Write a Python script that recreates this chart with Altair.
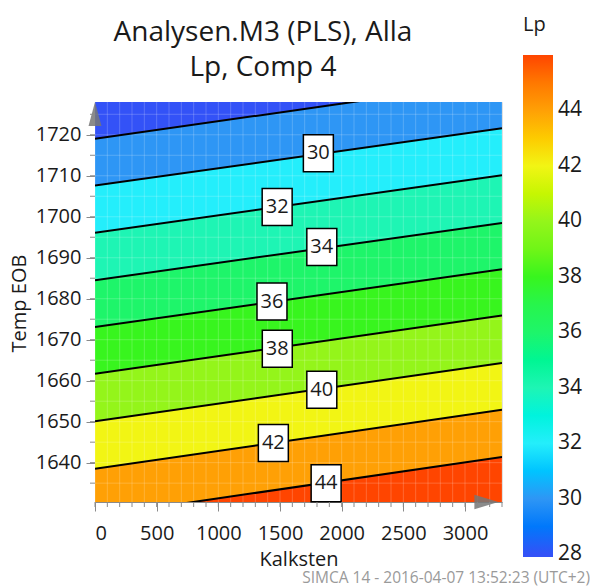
import altair as alt
import pandas as pd

FONT = "Open Sans"
TXT = "#1a1a1a"

# ---- data ----
kalk_domain = [0, 3300]
temp_domain = [1630.4, 1728.0]

levels = [28, 30, 32, 34, 36, 38, 40, 42, 44]
temp_at_kalk_min = [1719.0, 1707.6, 1696.1, 1684.5, 1673.1, 1661.7, 1650.1, 1638.5, 1626.9]
temp_at_kalk_max = [1733.2, 1721.6, 1710.1, 1698.5, 1687.2, 1675.9, 1664.3, 1652.9, 1641.4]

label_values = [30, 32, 34, 36, 38, 40, 42, 44]
label_kalk = [1811, 1477, 1839, 1435, 1478, 1839, 1446, 1874]
label_temp = [1715.5, 1702.4, 1692.6, 1679.3, 1667.8, 1657.8, 1644.8, 1635.0]

colorbar_stops = [27.9, 28, 30, 32, 34, 36, 38, 40, 42, 44, 46]
colorbar_colors = ["#3352F7", "#3352F7", "#2E96F5", "#24EEFB", "#1EF5B4", "#1EF56A",
                   "#38F51E", "#94F51A", "#F2F514", "#FFA005", "#FF4500"]
band_keys = [28, 30, 32, 34, 36, 38, 40, 42, 44, 46]
colorbar_labels = [28, 30, 32, 34, 36, 38, 40, 42, 44]

x_major = list(range(0, 3001, 500))
x_minor = list(range(0, 3301, 100))
y_major = list(range(1640, 1721, 10))
y_minor = list(range(1635, 1726, 5))

title_lines = ["Analysen.M3 (PLS), Alla", "Lp, Comp 4"]
footer_text = ["SIMCA 14 - 2016-04-07 13:52:23 (UTC+2)"]

# ---- tables ----
line_rows = []
for lv, t0, t1 in zip(levels, temp_at_kalk_min, temp_at_kalk_max):
    line_rows.append({"level": lv, "kalk": kalk_domain[0], "temp": t0})
    line_rows.append({"level": lv, "kalk": kalk_domain[1], "temp": t1})
lines_df = pd.DataFrame(line_rows)

edges = {lv: (t0, t1) for lv, t0, t1 in zip(levels, temp_at_kalk_min, temp_at_kalk_max)}
far_top = (temp_domain[1] + 40, temp_domain[1] + 40)
far_bottom = (temp_domain[0] - 40, temp_domain[0] - 40)
band_rows = []
for k in band_keys:
    upper_edge = edges.get(k - 2, far_top)
    lower_edge = edges.get(k, far_bottom)
    for i in range(2):
        band_rows.append({"band": k, "kalk": kalk_domain[i],
                          "hi": upper_edge[i], "lo": lower_edge[i]})
bands_df = pd.DataFrame(band_rows)

labels_df = pd.DataFrame({"value": label_values, "kalk": label_kalk, "temp": label_temp})
xminor_df = pd.DataFrame({"kalk": x_minor})
yminor_df = pd.DataFrame({"temp": y_minor})

xscale = alt.Scale(domain=kalk_domain, nice=False, zero=False)
yscale = alt.Scale(domain=temp_domain, nice=False, zero=False)
cscale = alt.Scale(domain=colorbar_stops, range=colorbar_colors)

xaxis = alt.Axis(
    values=x_major, format="d", tickSize=9,
    tickColor="#8a8a8a", domainColor="#8a8a8a", grid=False,
    labelOverlap=False, labelPadding=12, labelFontSize=20, labelFont=FONT, labelColor=TXT,
    title="Kalksten", titleFontSize=20, titleFont=FONT, titleFontWeight="normal",
    titleColor=TXT, titleY=57, titleBaseline="middle",
)
yaxis = alt.Axis(
    values=y_major, format="d", tickSize=9,
    tickColor="#8a8a8a", domainColor="#8a8a8a", grid=False,
    labelOverlap=False, labelPadding=5, labelFontSize=20, labelFont=FONT, labelColor=TXT,
    title="Temp EOB", titleFontSize=20, titleFont=FONT, titleFontWeight="normal",
    titleColor=TXT, titleX=-76, titleY=201, titleBaseline="middle", titleAlign="center",
    titleAngle=-90,
)

legend = alt.Legend(
    title="Lp", orient="none", legendX=428, legendY=-87, direction="vertical",
    gradientLength=502, gradientThickness=30, gradientStrokeWidth=0,
    values=colorbar_labels, labelFontSize=21, labelFont=FONT, labelColor=TXT,
    labelOffset=5,
    titleFontSize=20, titleFont=FONT, titleFontWeight="normal", titleColor=TXT,
    titlePadding=20,
)

bands = alt.Chart(bands_df).mark_area(clip=True, orient="vertical").encode(
    x=alt.X("kalk:Q", scale=xscale, axis=xaxis),
    y=alt.Y("lo:Q", scale=yscale, axis=yaxis),
    y2="hi:Q",
    color=alt.Color("band:Q", scale=cscale, legend=legend),
    detail="band:N",
)

xgrid = alt.Chart(xminor_df).mark_rule(color="white", opacity=0.2, strokeWidth=1).encode(x="kalk:Q")
ygrid = alt.Chart(yminor_df).mark_rule(color="white", opacity=0.2, strokeWidth=1).encode(y="temp:Q")

xminor_ticks = alt.Chart(xminor_df).mark_rule(color="#8a8a8a").encode(
    x="kalk:Q", y=alt.value(400), y2=alt.value(405))
yminor_ticks = alt.Chart(yminor_df).mark_rule(color="#8a8a8a").encode(
    y="temp:Q", x=alt.value(-5), x2=alt.value(0))

contours = alt.Chart(lines_df).mark_line(clip=True, color="black", strokeWidth=2).encode(
    x="kalk:Q", y="temp:Q", detail="level:N"
)

RECT = "M-0.81,-1L0.81,-1L0.81,1L-0.81,1Z"
boxes = alt.Chart(labels_df).mark_point(
    shape=RECT, size=1369, filled=True, fill="white", stroke="black",
    strokeWidth=1.5, opacity=1
).encode(x="kalk:Q", y="temp:Q")

texts = alt.Chart(labels_df).mark_text(
    font=FONT, fontSize=20, color=TXT, baseline="middle", align="center"
).encode(x="kalk:Q", y="temp:Q", text="value:Q")

arrow_up = alt.Chart(pd.DataFrame({"kalk": [kalk_domain[0]], "temp": [temp_domain[1]]})).mark_point(
    shape="M0,0L0.27,1L-0.27,1Z", size=2304, filled=True, color="#777777", opacity=0.85
).encode(x="kalk:Q", y="temp:Q")

arrow_right = alt.Chart(pd.DataFrame({"kalk": [kalk_domain[1]], "temp": [temp_domain[0]]})).mark_point(
    shape="M-0.15,0L-1.15,-0.3L-1.15,0.3Z", size=2304, filled=True, color="#777777", opacity=0.85
).encode(x="kalk:Q", y="temp:Q")

title1 = alt.Chart(pd.DataFrame({"t": [title_lines[0]]})).mark_text(
    font=FONT, fontSize=28, color=TXT, align="center", baseline="middle"
).encode(x=alt.value(168), y=alt.value(-69), text="t:N")
title2 = alt.Chart(pd.DataFrame({"t": [title_lines[1]]})).mark_text(
    font=FONT, fontSize=28, color=TXT, align="center", baseline="middle"
).encode(x=alt.value(168), y=alt.value(-34), text="t:N")

footer = alt.Chart(pd.DataFrame({"t": footer_text})).mark_text(
    font=FONT, fontSize=15.5, color="#9a9a9a", align="right", baseline="middle"
).encode(x=alt.value(495), y=alt.value(476), text="t:N")

chart = alt.layer(
    bands, xgrid, ygrid, contours, boxes, texts, arrow_up, arrow_right,
    xminor_ticks, yminor_ticks, title1, title2, footer
).properties(
    width=407, height=400,
    autosize=alt.AutoSizeParams(type="none"),
    padding={"left": 95, "top": 102, "right": 88, "bottom": 85},
).configure_view(strokeWidth=0).configure(background="white")

chart.save("out.html", embed_options={"renderer": "svg", "actions": False})
